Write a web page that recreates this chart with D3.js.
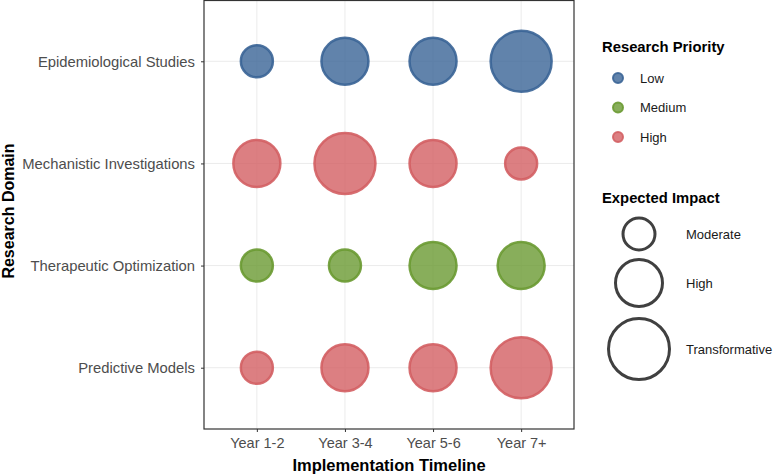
<!DOCTYPE html>
<html>
<head>
<meta charset="utf-8">
<script src="https://cdn.jsdelivr.net/npm/d3@7"></script>
<style>
  body { margin: 0; background: #fff; font-family: 'Liberation Sans', Arial, sans-serif; }
</style>
</head>
<body>
<div id="chart"></div>
<script>
// data
const timelines = ['Year 1-2', 'Year 3-4', 'Year 5-6', 'Year 7+']
const domains = ['Epidemiological Studies', 'Mechanistic Investigations', 'Therapeutic Optimization', 'Predictive Models']
const priorities = ['Low', 'Medium', 'High']
const impacts = ['Moderate', 'High', 'Transformative']

const domainPriority = ['Low', 'High', 'Medium', 'High']
const impactEpi = ['Moderate', 'High', 'High', 'Transformative']
const impactMech = ['High', 'Transformative', 'High', 'Moderate']
const impactTher = ['Moderate', 'Moderate', 'High', 'High']
const impactPred = ['Moderate', 'High', 'High', 'Transformative']
const impactRows = [impactEpi, impactMech, impactTher, impactPred]

const rows = []
domains.forEach((dom, i) => {
  timelines.forEach((t, j) => {
    rows.push({ domain: dom, timeline: t, priority: domainPriority[i], impact: impactRows[i][j] })
  })
})

const width = 775
const height = 474
const margin = { top: 0, right: 201, bottom: 45, left: 204 }

const svg = d3.select('#chart').append('svg')
  .attr('width', width)
  .attr('height', height)

const x = d3.scalePoint()
  .domain(timelines)
  .range([margin.left, width - margin.right])
  .padding(0.6)

const y = d3.scalePoint()
  .domain(domains)
  .range([margin.top, height - margin.bottom])
  .padding(0.6)

const color = d3.scaleOrdinal()
  .domain(priorities)
  .range(['#3a6496', '#6a9a32', '#d35f63'])

const size = d3.scaleOrdinal()
  .domain(impacts)
  .range([16, 23.5, 30.5])

// grid
const grid = svg.append('g')
grid.selectAll('.gx')
  .data(timelines)
  .enter().append('line')
  .attr('x1', d => x(d)).attr('x2', d => x(d))
  .attr('y1', margin.top).attr('y2', height - margin.bottom)
  .attr('stroke', '#ebebeb').attr('stroke-width', 1)
grid.selectAll('.gy')
  .data(domains)
  .enter().append('line')
  .attr('y1', d => y(d)).attr('y2', d => y(d))
  .attr('x1', margin.left).attr('x2', width - margin.right)
  .attr('stroke', '#ebebeb').attr('stroke-width', 1)

// bubbles
svg.append('g')
  .selectAll('circle')
  .data(rows)
  .enter().append('circle')
  .attr('cx', d => x(d.timeline))
  .attr('cy', d => y(d.domain))
  .attr('r', d => size(d.impact))
  .attr('fill', d => color(d.priority))
  .attr('fill-opacity', 0.8)
  .attr('stroke', d => color(d.priority))
  .attr('stroke-opacity', 0.9)
  .attr('stroke-width', 2.5)

// panel border
svg.append('rect')
  .attr('x', margin.left).attr('y', margin.top + 0.5)
  .attr('width', width - margin.right - margin.left)
  .attr('height', height - margin.bottom - margin.top - 0.5)
  .attr('fill', 'none')
  .attr('stroke', '#333333')
  .attr('stroke-width', 1.2)

// axes
const xAxis = svg.append('g')
  .attr('transform', `translate(0,${height - margin.bottom})`)
  .call(d3.axisBottom(x).tickSize(3).tickPadding(6))
xAxis.select('.domain').remove()
xAxis.selectAll('line').attr('stroke', '#333333')
xAxis.selectAll('text')
  .attr('fill', '#4d4d4d')
  .style('font-size', '14.5px')
  .style('font-family', 'Liberation Sans, Arial, sans-serif')

const yAxis = svg.append('g')
  .attr('transform', `translate(${margin.left},0)`)
  .call(d3.axisLeft(y).tickSize(3).tickPadding(6))
yAxis.select('.domain').remove()
yAxis.selectAll('line').attr('stroke', '#333333')
yAxis.selectAll('text')
  .attr('fill', '#4d4d4d')
  .style('font-size', '14.8px')
  .style('font-family', 'Liberation Sans, Arial, sans-serif')

// axis titles
svg.append('text')
  .attr('x', (margin.left + width - margin.right) / 2)
  .attr('y', 471)
  .attr('text-anchor', 'middle')
  .style('font-size', '16.5px')
  .style('font-weight', 'bold')
  .text('Implementation Timeline')

svg.append('text')
  .attr('transform', `translate(14,211) rotate(-90)`)
  .attr('text-anchor', 'middle')
  .style('font-size', '16px')
  .style('font-weight', 'bold')
  .text('Research Domain')

// legend: priority
const lg1 = svg.append('g').attr('transform', 'translate(602,0)')
lg1.append('text')
  .attr('x', 0).attr('y', 52)
  .style('font-size', '14.8px').style('font-weight', 'bold')
  .text('Research Priority')
const keys1 = lg1.selectAll('.k1')
  .data(priorities)
  .enter().append('g')
  .attr('transform', (d, i) => `translate(0,${78 + i * 29.5})`)
keys1.append('circle')
  .attr('cx', 16).attr('cy', 0).attr('r', 5)
  .attr('fill', d => color(d)).attr('fill-opacity', 0.8)
  .attr('stroke', d => color(d)).attr('stroke-opacity', 0.9).attr('stroke-width', 2)
keys1.append('text')
  .attr('x', 38).attr('y', 4.5)
  .style('font-size', '13px')
  .attr('fill', '#1a1a1a')
  .text(d => d)

// legend: impact
const lg2 = svg.append('g').attr('transform', 'translate(602,0)')
lg2.append('text')
  .attr('x', 0).attr('y', 203)
  .style('font-size', '14.8px').style('font-weight', 'bold')
  .text('Expected Impact')
const impactY = [234, 283, 349]
const keys2 = lg2.selectAll('.k2')
  .data(impacts)
  .enter().append('g')
  .attr('transform', (d, i) => `translate(0,${impactY[i]})`)
keys2.append('circle')
  .attr('cx', 37).attr('cy', 0).attr('r', d => size(d))
  .attr('fill', 'none')
  .attr('stroke', '#404040').attr('stroke-width', 3)
keys2.append('text')
  .attr('x', 84).attr('y', 4.5)
  .style('font-size', '13px')
  .attr('fill', '#1a1a1a')
  .text(d => d)
</script>
</body>
</html>
